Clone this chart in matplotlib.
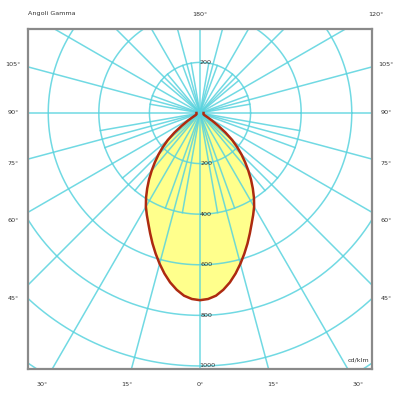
import numpy as np
import matplotlib
matplotlib.use("Agg")
import matplotlib.pyplot as plt

# ---- data (cd/klm vs gamma angle, symmetric) ----
gamma_deg = [0, 2.5, 5, 7.5, 10, 12.5, 15, 17.5, 20, 22.5, 25, 27.5, 30, 32.5, 35, 37.5,
             40, 42.5, 45, 47.5, 50, 52.5, 55, 57.5, 60, 62.5, 65, 70, 75, 80, 85, 90]
intensity = [740, 736, 725, 705, 680, 650, 617, 583, 549, 515, 483, 455, 428, 397, 364, 331,
             297, 264, 232, 199, 166, 127, 88, 58, 36, 24, 18, 15, 14, 14, 14, 14]
radial_ticks = [200, 400, 600, 800, 1000]
left_angle_labels = ["105°", "90°", "75°", "60°", "45°"]
bottom_labels = ["30°", "15°", "0°", "15°", "30°"]

grid_c = "#58d3de"
fig = plt.figure(figsize=(4, 4), dpi=100)
ax = fig.add_axes([0.07, 0.0775, 0.86, 0.85])
ax.set_xlim(-680, 680)
ax.set_ylim(-1012, 332)
ax.set_xticks([]); ax.set_yticks([])
for s in ax.spines.values():
    s.set_color("#8a8a8a"); s.set_linewidth(1.6)

# curve
g = np.array(gamma_deg, dtype=float)
I = np.array(intensity, dtype=float)
gfull = np.concatenate([-g[::-1], g[1:]])
Ifull = np.concatenate([I[::-1], I[1:]])
th = np.radians(gfull)
xc = Ifull * np.sin(th)
yc = -Ifull * np.cos(th)
ax.fill(xc, yc, color="#ffff8c", zorder=1, lw=0)

# circles
t = np.linspace(0, 2 * np.pi, 721)
for r in range(200, 1600, 200):
    ax.plot(r * np.cos(t), r * np.sin(t), color=grid_c, lw=1.1, zorder=2, alpha=0.85)

# rays
for a in range(0, 360, 5):
    ar = np.radians(a)
    if a % 15 == 0:
        rmax = 3000
    elif a % 10 == 0:
        rmax = 400 if (a < 90 or a > 270) else 200
    else:
        continue
    ax.plot([0, rmax * np.sin(ar)], [0, -rmax * np.cos(ar)], color=grid_c, lw=1.1,
            zorder=2, alpha=0.85)

ax.plot(xc, yc, color="#ad2a10", lw=1.8, zorder=3, solid_joinstyle="round")

fs = 4.6
tc = "#333333"
# radial labels
ax.text(22, 200, "200", fontsize=fs, color=tc, ha="center", va="center", zorder=4)
for r in radial_ticks:
    ax.text(24 if r < 1000 else 30, -r, str(r), fontsize=fs, color=tc, ha="center",
            va="center", zorder=4)
ax.text(670, -975, "cd/klm", fontsize=fs, color=tc, ha="right", va="center", zorder=4)

def px(x, y):
    return x / 400, 1 - y / 400

fig.text(*px(28, 14), "Angoli Gamma", fontsize=fs, color=tc, ha="left", va="center")
fig.text(*px(200, 14), "180°", fontsize=fs, color=tc, ha="center", va="center")
fig.text(*px(376, 14), "120°", fontsize=fs, color=tc, ha="center", va="center")
left_y = [65, 113, 164, 221, 299]
for lab, yy in zip(left_angle_labels, left_y):
    fig.text(*px(13, yy), lab, fontsize=fs, color=tc, ha="center", va="center")
    fig.text(*px(386, yy), lab, fontsize=fs, color=tc, ha="center", va="center")
bot_x = [42, 127, 200, 273, 358]
for lab, xx in zip(bottom_labels, bot_x):
    fig.text(*px(xx, 384), lab, fontsize=fs, color=tc, ha="center", va="center")

fig.savefig("out.png", dpi=100, facecolor="white")
